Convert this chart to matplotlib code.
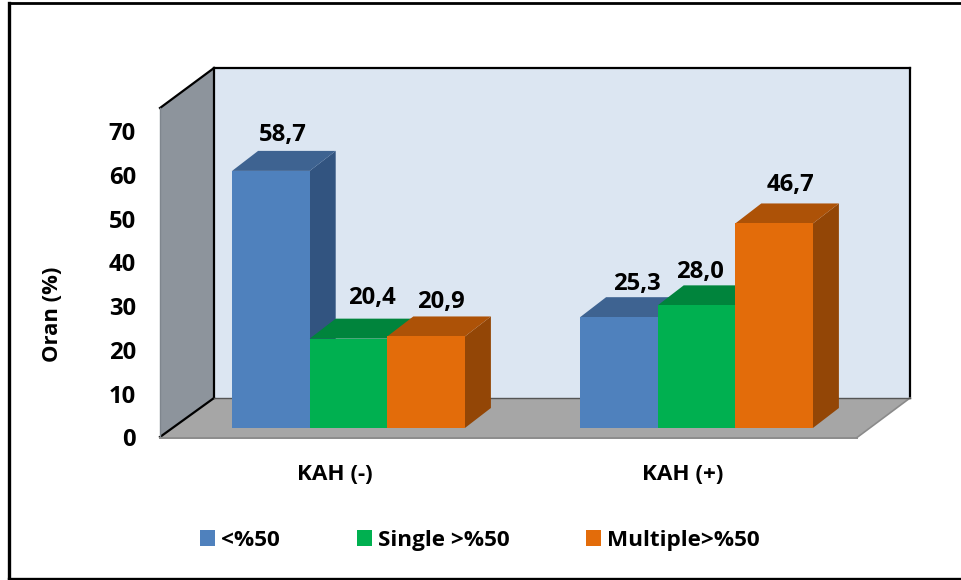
import matplotlib
matplotlib.use('Agg')
import numpy as np
import matplotlib.pyplot as plt
from matplotlib.patches import Polygon

plt.rcParams['font.family'] = ['Open Sans', 'DejaVu Sans']
plt.rcParams['font.weight'] = 'bold'

groups = ['KAH (-)', 'KAH (+)']
series = ['<%50', 'Single >%50', 'Multiple>%50']
under50 = [58.7, 25.3]
single50 = [20.4, 28.0]
multiple50 = [20.9, 46.7]
yticks = [0, 10, 20, 30, 40, 50, 60, 70]

front = ['#4F81BD', '#00B050', '#E36C0A']
top = ['#3E6391', '#00843C', '#AD5207']
side = ['#325480', '#006F32', '#934606']

W, H = 961, 580
PX_X = 348.0      # pixels between the two groups
PX_Y = 4.38       # pixels per percent
X0, Y0 = 348.5, 428.0
DX, DY = 26 / PX_X, 20 / PX_Y     # bar depth
BAR = 77.6 / PX_X
FS = 17.2

# nudges for the value labels, in pixels
nudge_x = [[12, 23, 15], [18, 3, 16]]
nudge_y = [[18, 23, 16], [15, 15, 20]]


def px(x, y):
    return (x - X0) / PX_X, (Y0 - y) / PX_Y


fig = plt.figure(figsize=(W / 100, H / 100), dpi=100)
ax = fig.add_axes([0, 0, 1, 1])
ax.set_xlim(px(0, 0)[0], px(W, 0)[0])
ax.set_ylim(px(0, H)[1], px(0, 0)[1])
ax.axis('off')


def wall(points, color, z=1):
    ax.add_patch(Polygon([px(*p) for p in points], closed=True, fc=color, ec='none', zorder=z))


def edge(p, q, color='black', lw=1.6, z=2):
    a, b = px(*p), px(*q)
    ax.plot([a[0], b[0]], [a[1], b[1]], color=color, lw=lw, zorder=z, solid_capstyle='projecting')


# chart box
edge((9, 3), (9, H), lw=2.4)
edge((9, 3), (W, 3), lw=2)
edge((9, 578.5), (W, 578.5), lw=2.4)

# back wall, side wall and floor
wall([(214, 68), (910, 68), (910, 398), (214, 398)], '#DCE6F2')
wall([(160, 108), (214, 68), (214, 398), (160, 437)], '#8D949C')
wall([(160, 437), (214, 398), (910, 398), (857, 437)], '#A6A6A6')
edge((214, 68), (910, 68))
edge((910, 68), (910, 398))
edge((214, 68), (214, 398))
edge((160, 108), (214, 68))
edge((160, 437), (214, 398))
edge((160, 108), (160, 437), color='#7F868E', lw=1)
edge((160, 437.5), (857, 437.5), color='#8A8A8A', lw=1.4)
edge((857, 437.5), (910, 398), color='#8A8A8A', lw=1.2)
edge((214, 398), (910, 398), color='#555555', lw=1)

values = [under50, single50, multiple50]
offsets = np.array([-1, 0, 1]) * BAR
x = np.arange(len(groups))
handles = []
z = 5
for s, vals in enumerate(values):
    handles.append(ax.bar(x[0] + offsets[s], 0, BAR, color=front[s], label=series[s]))

for g in x:
    for s, vals in enumerate(values):
        v = vals[g]
        left = g + offsets[s] - BAR / 2
        right = left + BAR
        ax.add_patch(Polygon([(right, 0), (right + DX, DY), (right + DX, v + DY), (right, v)],
                             closed=True, fc=side[s], ec='none', zorder=z))
        ax.add_patch(Polygon([(left, v), (left + DX, v + DY), (right + DX, v + DY), (right, v)],
                             closed=True, fc=top[s], ec='none', zorder=z))
        ax.bar(g + offsets[s], v, BAR, color=front[s], zorder=z + 1)
        ax.text(g + offsets[s] + nudge_x[g][s] / PX_X, v + DY + (nudge_y[g][s] - 2) / PX_Y,
                f'{v:.1f}'.replace('.', ','), ha='center', va='center',
                fontsize=FS, color='black', zorder=30)
        z += 2

# y axis tick labels sit on the front edge of the floor
for t in yticks:
    ax.text(px(136, 0)[0], t - 12.5 / PX_Y, str(t), ha='right', va='center', fontsize=FS)

for g, name in zip(x, groups):
    ax.text(g - 14 / PX_X, px(0, 475)[1], name, ha='center', va='center', fontsize=16.2)

ax.text(*px(53, 314), 'Oran (%)', rotation=90, ha='center', va='center', fontsize=15.8)

ax.legend(handles=handles, loc='center', bbox_to_anchor=(480 / W, 1 - 540.5 / H), ncol=3,
          frameon=False, fontsize=16.2, handlelength=0.667, handleheight=0.667,
          handletextpad=0.27, columnspacing=3.4)

plt.savefig('out.png', dpi=100)
